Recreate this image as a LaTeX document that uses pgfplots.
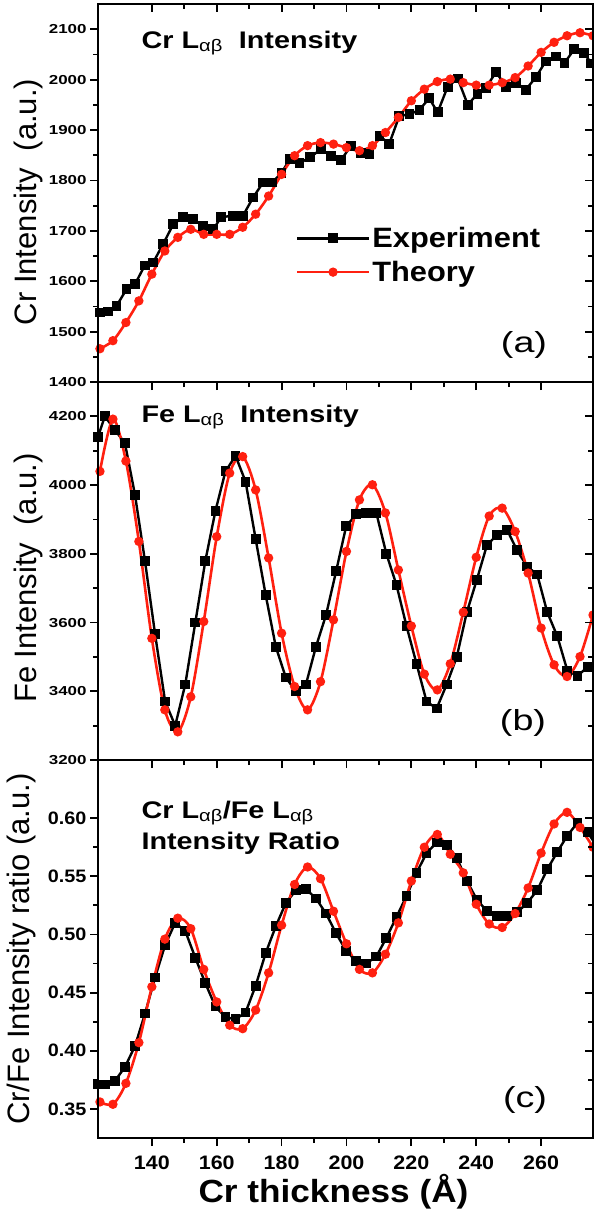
\documentclass[border=0pt]{standalone}
\usepackage{fontspec}
\setmainfont{Liberation Sans}
\newfontfamily\fA[FakeStretch=1.3]{Liberation Sans}
\newfontfamily\fB[FakeStretch=1.1]{Liberation Sans}
\newfontfamily\fC[FakeStretch=1.2]{Liberation Sans}
\usepackage{pgfplots}
\pgfplotsset{compat=1.18}
\definecolor{thred}{RGB}{255,32,16}

\pgfplotsset{
  panel/.style={scale only axis, width=495pt, height=378pt, anchor=south west,
    xmin=123.4, xmax=276, xtick={140,160,...,260}, minor x tick num=1, minor y tick num=1,
    axis line style={line width=2.2pt}, every tick/.append style={line width=1.8pt, black},
    major tick length=8pt, minor tick length=5pt,
    /pgf/number format/assume math mode=true, /pgf/number format/1000 sep={}},
  outer/.style={panel, tick align=outside, xtick pos=left, ytick pos=left},
  inner/.style={panel, tick align=inside, xtick pos=right, ytick pos=right,
    xticklabels={}, yticklabels={}},
  expt/.style={black, line width=2.4pt, mark=square*, mark size=3.7pt},
  theo/.style={thred, line width=2.6pt, mark=*, mark size=3.3pt, smooth},
  ylab/.style 2 args={every axis y label/.style={at={(rel axis cs:0,0.5)}, xshift=#1, yshift=#2,
    rotate=90, anchor=center, font=\fontsize{31}{31}\selectfont}},
}
\newcommand{\ab}{\textsubscript{\mdseries αβ}}

\begin{document}
\begin{tikzpicture}
\useasboundingbox (0,0) rectangle (594pt,-1213pt);

% (a) Cr intensity
\begin{axis}[outer, at={(98pt,-382pt)}, ymin=1400, ymax=2150,
  ytick={1400,1500,...,2100}, xticklabels={},
  yticklabel style={font=\fA\bfseries\fontsize{13}{13}\selectfont},
  ylab={-70pt}{-9pt}, ylabel={Cr Intensity\ \ (a.u.)},
  legend style={draw=none, fill=none, at={(0.393,0.42)}, anchor=north west,
    font=\fB\bfseries\fontsize{28}{30}\selectfont, row sep=8pt},
  legend cell align=left,
  legend image code/.code={\draw[mark repeat=2,mark phase=2]
    plot coordinates {(0pt,0pt)(36pt,0pt)(72pt,0pt)};}]
\addplot[expt] coordinates {
(124.0,1538)(126.5,1540)(129.1,1551)(132.2,1584)(134.8,1594)(137.8,1631)
(140.4,1637)(143.5,1674)(146.6,1713)(149.6,1727)(152.7,1723)(155.8,1710)
(158.9,1703)(161.4,1727)(165.0,1730)(168.1,1730)(171.2,1766)(174.3,1796)
(177.1,1796)(180.0,1815)(182.5,1842)(185.5,1834)(188.8,1846)(192.2,1862)
(195.2,1849)(198.3,1840)(201.4,1869)(204.5,1854)(207.1,1852)(210.2,1888)
(213.2,1873)(216.3,1928)(219.4,1931)(222.5,1940)(225.5,1963)(228.1,1935)
(231.2,1986)(234.3,2002)(237.4,1950)(240.4,1972)(243.0,1984)(246.1,2015)
(249.2,1986)(252.2,1994)(255.3,1980)(258.4,2005)(261.4,2036)(264.5,2046)
(267.2,2033)(270.2,2060)(273.3,2052)(275.5,2032)};
\addplot[theo] coordinates {
(124,1466)(128,1482)(132,1518)(136,1561)(140,1614)(144,1660)(148,1687)
(152,1703)(156,1693)(160,1693)(164,1693)(168,1707)(172,1733)(176,1769)
(180,1812)(184,1849)(188,1869)(192,1875)(196,1872)(200,1865)(204,1859)
(208,1869)(212,1895)(216,1925)(220,1958)(224,1981)(228,1996)(232,2001)
(236,1994)(240,1989)(244,1989)(248,1994)(252,2004)(256,2027)(260,2054)
(264,2074)(268,2087)(272,2093)(276,2087)};
\legend{Experiment,Theory}
\end{axis}
\begin{axis}[inner, at={(98pt,-382pt)}, ymin=1400, ymax=2150, ytick={1400,1500,...,2100}]
\end{axis}

% (b) Fe intensity
\begin{axis}[outer, at={(98pt,-760pt)}, ymin=3200, ymax=4300,
  ytick={3200,3400,...,4200}, xticklabels={},
  yticklabel style={font=\fA\bfseries\fontsize{13}{13}\selectfont},
  ylab={-70pt}{-7pt}, ylabel={Fe Intensity\ \ (a.u.)}]
\addplot[expt] coordinates {
(123.4,4140)(125.5,4200)(128.6,4161)(131.7,4122)(134.8,3972)(137.9,3778)
(141.0,3566)(144.1,3370)(147.2,3300)(150.3,3420)(153.4,3600)(156.5,3780)
(159.6,3925)(162.7,4040)(165.8,4085)(168.9,4010)(172.0,3843)(175.1,3680)
(178.2,3530)(181.3,3440)(184.4,3400)(187.5,3420)(190.6,3530)(193.7,3622)
(196.8,3749)(199.9,3880)(203.0,3915)(206.1,3919)(209.2,3919)(212.3,3800)
(215.4,3710)(218.5,3590)(221.6,3480)(224.7,3370)(227.8,3350)(230.9,3420)
(234.0,3500)(237.1,3630)(240.2,3725)(243.3,3825)(246.4,3855)(249.5,3870)
(252.6,3810)(255.7,3763)(258.8,3740)(261.9,3630)(265.0,3560)(268.1,3460)
(271.2,3445)(274.3,3470)(277.4,3495)};
\addplot[theo] coordinates {
(124,4040)(128,4192)(132,4070)(136,3836)(140,3554)(144,3346)(148,3282)
(152,3384)(156,3603)(160,3850)(164,4035)(168,4083)(172,3986)(176,3788)
(180,3569)(184,3414)(188,3346)(192,3428)(196,3608)(200,3807)(204,3957)
(208,4001)(212,3919)(216,3753)(220,3590)(224,3450)(228,3404)(232,3480)
(236,3630)(240,3790)(244,3910)(248,3933)(252,3865)(256,3744)(260,3584)
(264,3477)(268,3443)(272,3501)(276,3622)};
\end{axis}
\begin{axis}[inner, at={(98pt,-760pt)}, ymin=3200, ymax=4300, ytick={3200,3400,...,4200}]
\end{axis}

% (c) ratio
\begin{axis}[outer, at={(98pt,-1138pt)}, ymin=0.325, ymax=0.65,
  ytick={0.35,0.40,...,0.61},
  yticklabel style={font=\fB\bfseries\fontsize{18}{18}\selectfont,
    /pgf/number format/fixed, /pgf/number format/fixed zerofill, /pgf/number format/precision=2},
  xticklabel style={font=\fB\bfseries\fontsize{19.5}{19.5}\selectfont, yshift=-6pt},
  ylab={-77pt}{0pt}, ylabel={Cr/Fe Intensity ratio (a.u.)},
  every axis x label/.style={at={(rel axis cs:0.5,0)}, anchor=center, xshift=-12pt, yshift=-54pt,
    font=\fB\bfseries\fontsize{32}{32}\selectfont},
  xlabel={Cr thickness (Å)}]
\addplot[expt] coordinates {
(123.4,0.371)(125.5,0.371)(128.6,0.374)(131.7,0.386)(134.8,0.404)(137.9,0.432)
(141.0,0.463)(144.1,0.491)(147.2,0.510)(150.3,0.503)(153.4,0.480)(156.5,0.458)
(159.6,0.438)(162.7,0.429)(165.8,0.427)(168.9,0.433)(172.0,0.456)(175.1,0.484)
(178.2,0.507)(181.3,0.527)(184.4,0.538)(187.5,0.539)(190.6,0.531)(193.7,0.518)
(196.8,0.501)(199.9,0.486)(203.0,0.477)(206.1,0.475)(209.2,0.481)(212.3,0.497)
(215.4,0.515)(218.5,0.533)(221.6,0.553)(224.7,0.570)(227.8,0.579)(230.9,0.577)
(234.0,0.566)(237.1,0.546)(240.2,0.530)(243.3,0.520)(246.4,0.516)(249.5,0.516)
(252.6,0.519)(255.7,0.527)(258.8,0.538)(261.9,0.556)(265.0,0.571)(268.1,0.585)
(271.2,0.596)(274.3,0.588)(277.4,0.575)};
\addplot[theo] coordinates {
(124,0.356)(128,0.354)(132,0.372)(136,0.407)(140,0.455)(144,0.496)(148,0.514)
(152,0.505)(156,0.470)(160,0.442)(164,0.422)(168,0.419)(172,0.435)(176,0.467)
(180,0.508)(184,0.543)(188,0.558)(192,0.548)(196,0.520)(200,0.492)(204,0.470)
(208,0.467)(212,0.483)(216,0.510)(220,0.546)(224,0.575)(228,0.586)(232,0.569)
(236,0.553)(240,0.526)(244,0.509)(248,0.506)(252,0.518)(256,0.540)(260,0.570)
(264,0.595)(268,0.605)(272,0.592)(276,0.575)};
\end{axis}
\begin{axis}[inner, at={(98pt,-1138pt)}, ymin=0.325, ymax=0.65, ytick={0.35,0.40,...,0.61}]
\end{axis}

% panel annotations
\node[anchor=west, font=\fC\bfseries\fontsize{24}{24}\selectfont] at (138pt,-43pt)
  {Cr L\ab\ \ Intensity};
\node[anchor=west, font=\fC\bfseries\fontsize{24}{24}\selectfont] at (138pt,-417pt)
  {Fe L\ab\ \ Intensity};
\node[anchor=west, font=\fC\bfseries\fontsize{24}{24}\selectfont] at (138pt,-813pt)
  {Cr L\ab/Fe L\ab};
\node[anchor=west, font=\fC\bfseries\fontsize{24}{24}\selectfont] at (138pt,-843pt)
  {Intensity Ratio};
\node[font=\fA\fontsize{29}{29}\selectfont] at (524pt,-345pt) {(a)};
\node[font=\fA\fontsize{29}{29}\selectfont] at (523pt,-723pt) {(b)};
\node[font=\fA\fontsize{29}{29}\selectfont] at (525pt,-1100pt) {(c)};
\end{tikzpicture}
\end{document}
